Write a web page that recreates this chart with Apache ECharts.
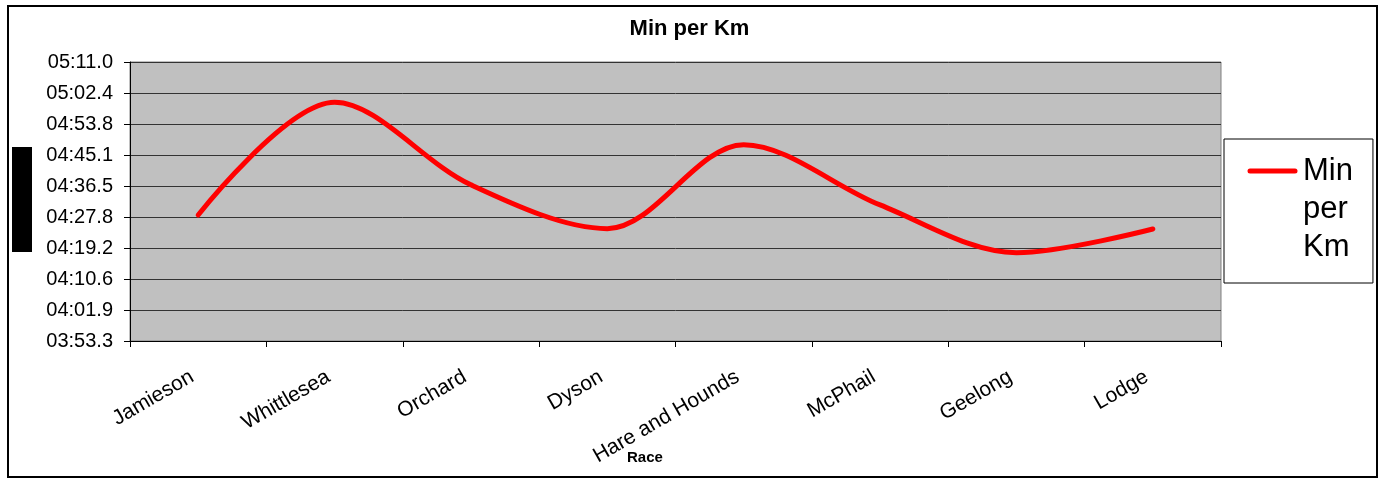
<!DOCTYPE html>
<html>
<head>
<meta charset="utf-8">
<script src="https://cdn.jsdelivr.net/npm/echarts@6/dist/echarts.min.js"></script>
<style>
  html, body { margin: 0; padding: 0; background: #fff; }
  #chart { width: 1379px; height: 479px; }
</style>
</head>
<body>
<div id="chart"></div>
<script>
// Race names (category axis)
const races = ['Jamieson', 'Whittlesea', 'Orchard', 'Dyson', 'Hare and Hounds', 'McPhail', 'Geelong', 'Lodge'];
// Pace in seconds per km
const minPerKm = [268.4, 299.8, 276.8, 264.6, 288.0, 271.2, 257.9, 264.5];
// Value axis range in seconds: 03:53.3 .. 05:11.0, step 00:08.64
const yMin = 233.28;
const yMax = 311.04;
const yStep = 8.64;
// Legend label, wrapped as in the picture
const legendLines = ['Min', 'per', 'Km'];

function fmtPace(v) {
  const m = Math.floor(v / 60 + 1e-9);
  const s = v - m * 60;
  const ss = s.toFixed(1);
  return (m < 10 ? '0' : '') + m + ':' + (parseFloat(ss) < 10 ? '0' : '') + ss;
}

const chart = echarts.init(document.getElementById('chart'), null, { renderer: 'canvas' });
const FONT = '"Liberation Sans", Arial, Helvetica, sans-serif';

chart.setOption({
  animation: false,
  backgroundColor: '#ffffff',
  textStyle: { fontFamily: FONT },
  title: [
    {
      text: 'Min per Km',
      left: 'center',
      top: 13,
      textStyle: { fontSize: 22, fontWeight: 'bold', color: '#000', fontFamily: FONT }
    },
    {
      text: 'Race',
      left: 627,
      top: 450,
      padding: 0,
      textStyle: { fontSize: 15, fontWeight: 'bold', color: '#000', fontFamily: FONT }
    }
  ],
  grid: {
    left: 130,
    right: 158,
    top: 62,
    bottom: 138,
    show: true,
    backgroundColor: '#C0C0C0',
    borderColor: '#808080',
    borderWidth: 1
  },
  legend: {
    data: ['Min per Km'],
    orient: 'vertical',
    left: 1224,
    top: 139,
    selectedMode: false,
    backgroundColor: '#ffffff',
    borderColor: '#000',
    borderWidth: 1,
    padding: [13, 20, 17, 23],
    itemWidth: 51,
    itemHeight: 114,
    icon: 'path://M0,0 M51,114 M3,16.5 L48,16.5 A2.5,2.5 0 0 1 48,21.5 L3,21.5 A2.5,2.5 0 0 1 3,16.5 Z',
    itemStyle: { color: '#FF0000', borderWidth: 0 },
    formatter: function () { return legendLines.join('\n'); },
    textStyle: {
      fontSize: 31,
      lineHeight: 38,
      color: '#000',
      fontFamily: FONT
    }
  },
  xAxis: {
    type: 'category',
    data: races,
    boundaryGap: true,
    axisLine: { show: true, lineStyle: { color: '#000', width: 1 } },
    axisTick: { show: true, length: 6, lineStyle: { color: '#000' } },
    axisLabel: {
      interval: 0,
      rotate: 30,
      margin: 31,
      padding: [0, 7, 0, 0],
      fontSize: 21,
      color: '#000',
      fontFamily: FONT
    },
    splitLine: { show: false }
  },
  yAxis: {
    type: 'value',
    min: yMin,
    max: yMax,
    interval: yStep,
    axisLine: { show: true, lineStyle: { color: '#000', width: 1 } },
    axisTick: { show: true, length: 6, lineStyle: { color: '#000' } },
    axisLabel: {
      margin: 17,
      fontSize: 20,
      color: '#000',
      fontFamily: FONT,
      formatter: fmtPace
    },
    splitLine: { show: true, lineStyle: { color: '#333333', width: 1 } }
  },
  series: [
    {
      name: 'Min per Km',
      type: 'line',
      data: minPerKm,
      smooth: 0.33,
      symbol: 'none',
      showSymbol: false,
      lineStyle: { color: '#FF0000', width: 5, cap: 'round', join: 'round' },
      itemStyle: { color: '#FF0000' }
    }
  ],
  graphic: [
    {
      type: 'rect',
      shape: { x: 8, y: 6, width: 1369, height: 471 },
      style: { fill: 'none', stroke: '#000', lineWidth: 2 },
      silent: true,
      z: 100
    },
    {
      type: 'rect',
      shape: { x: 12, y: 147, width: 20, height: 105 },
      style: { fill: '#000' },
      silent: true
    }
  ]
});
</script>
</body>
</html>
